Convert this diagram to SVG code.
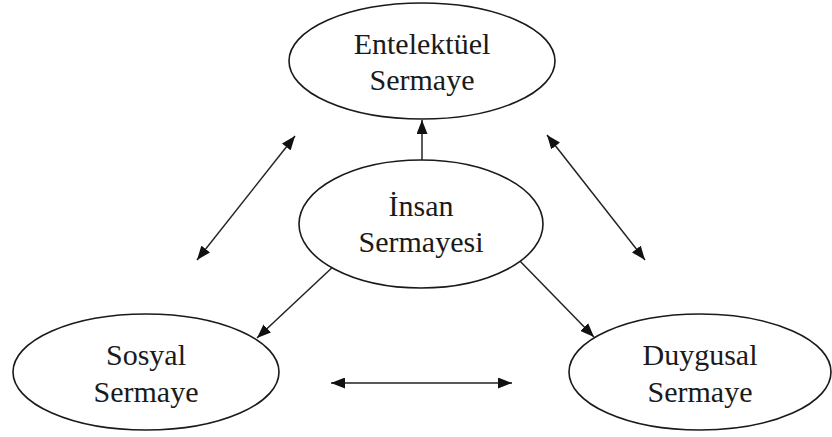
<svg xmlns="http://www.w3.org/2000/svg" width="832" height="437" viewBox="0 0 832 437">
  <style>
    .node ellipse { fill: #ffffff; stroke: #1a1a1a; stroke-width: 1.6; }
    .node text { font-family: "Liberation Serif", "Times New Roman", serif; font-size: 30px; fill: #1a1a1a; text-anchor: middle; }
    .edges line { stroke: #222222; stroke-width: 1.5; fill: none; }
    .edges .end { marker-end: url(#arrow); }
    .edges .both { marker-start: url(#arrow-start); marker-end: url(#arrow); }
  </style>
  <defs>
    <marker id="arrow" viewBox="0 0 14 11" refX="14" refY="5.5" markerWidth="14" markerHeight="11" markerUnits="userSpaceOnUse" orient="auto">
      <path d="M0,0 L14,5.5 L0,11 Z" fill="#111111"/>
    </marker>
    <marker id="arrow-start" viewBox="0 0 14 11" refX="0" refY="5.5" markerWidth="14" markerHeight="11" markerUnits="userSpaceOnUse" orient="auto">
      <path d="M14,0 L0,5.5 L14,11 Z" fill="#111111"/>
    </marker>
  </defs>
  <rect width="832" height="437" fill="#ffffff"/>

  <g class="edges" id="connectors">
    <line class="end" x1="422" y1="160" x2="422" y2="120"/>
    <line class="end" x1="336" y1="264" x2="257" y2="338"/>
    <line class="end" x1="517" y1="258" x2="594" y2="337"/>
    <line class="both" x1="197" y1="260" x2="295" y2="136"/>
    <line class="both" x1="547" y1="135" x2="645" y2="260"/>
    <line class="both" x1="331" y1="383" x2="512" y2="383"/>
  </g>

  <g class="node" id="entelektuel">
    <ellipse cx="422" cy="61" rx="133" ry="58"/>
    <text x="422" y="54">Entelektüel</text>
    <text x="422" y="90">Sermaye</text>
  </g>

  <g class="node" id="insan">
    <ellipse cx="421" cy="224" rx="122" ry="64"/>
    <text x="421" y="216">İnsan</text>
    <text x="421" y="252">Sermayesi</text>
  </g>

  <g class="node" id="sosyal">
    <ellipse cx="146" cy="372" rx="133" ry="58"/>
    <text x="146" y="365">Sosyal</text>
    <text x="146" y="402">Sermaye</text>
  </g>

  <g class="node" id="duygusal">
    <ellipse cx="700" cy="372" rx="131" ry="58"/>
    <text x="700" y="365">Duygusal</text>
    <text x="700" y="402">Sermaye</text>
  </g>
</svg>
